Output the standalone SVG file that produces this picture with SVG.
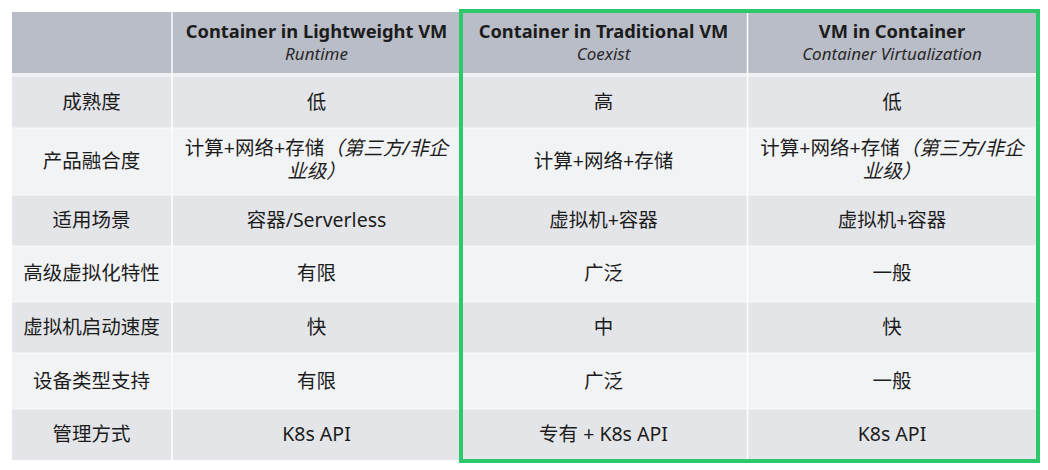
<svg xmlns="http://www.w3.org/2000/svg" width="1048" height="470" viewBox="0 0 1048 470">
<style>
text{font-family:"Noto Sans","Noto Sans CJK SC",sans-serif;fill:#1c1c1c;text-anchor:middle}
.h{font-size:18.3px;font-weight:bold}
.s{font-size:17px;font-style:italic;fill:#2a2a2a}
.t{font-size:19.5px}
.i{font-style:italic}
.hd{fill:#b9bdc7}
.dk{fill:#e4e5e9}
.lt{fill:#f2f3f5}
.sep{stroke:#ffffff;stroke-width:1.5}
.hl{fill:none;stroke:#2cc86a;stroke-width:4}
</style>
<rect width="1048" height="470" fill="#ffffff"/>
<g id="header">
<rect class="hd" x="12" y="12" width="1024" height="61"/>
<rect x="12" y="73" width="1024" height="4" fill="#eef0f3"/>
<text class="h" x="316.5" y="38">Container in Lightweight VM</text>
<text class="s" x="316.5" y="60">Runtime</text>
<text class="h" x="603.5" y="38">Container in Traditional VM</text>
<text class="s" x="603.5" y="60">Coexist</text>
<text class="h" x="892" y="38">VM in Container</text>
<text class="s" x="892" y="60">Container Virtualization</text>
</g>
<g id="row-maturity">
<rect class="dk" x="12" y="77" width="1024" height="51"/>
<text class="t" x="91.5" y="109">成熟度</text>
<text class="t" x="316.5" y="109">低</text>
<text class="t" x="603.5" y="109">高</text>
<text class="t" x="892" y="109">低</text>
</g>
<g id="row-integration">
<rect class="lt" x="12" y="128" width="1024" height="67"/>
<text class="t" x="91.5" y="168">产品融合度</text>
<text class="t" x="316.5" y="155">计算+网络+存储<tspan class="i">（第三方/非企</tspan></text>
<text class="t i" x="316.5" y="178">业级）</text>
<text class="t" x="603.5" y="168">计算+网络+存储</text>
<text class="t" x="892" y="155">计算+网络+存储<tspan class="i">（第三方/非企</tspan></text>
<text class="t i" x="892" y="178">业级）</text>
</g>
<g id="row-scenario">
<rect class="dk" x="12" y="195" width="1024" height="51"/>
<text class="t" x="91.5" y="227">适用场景</text>
<text class="t" x="316.5" y="227">容器/Serverless</text>
<text class="t" x="603.5" y="227">虚拟机+容器</text>
<text class="t" x="892" y="227">虚拟机+容器</text>
</g>
<g id="row-advanced">
<rect class="lt" x="12" y="246" width="1024" height="56"/>
<text class="t" x="91.5" y="280">高级虚拟化特性</text>
<text class="t" x="316.5" y="280">有限</text>
<text class="t" x="603.5" y="280">广泛</text>
<text class="t" x="892" y="280">一般</text>
</g>
<g id="row-boot">
<rect class="dk" x="12" y="302" width="1024" height="51"/>
<text class="t" x="91.5" y="334">虚拟机启动速度</text>
<text class="t" x="316.5" y="334">快</text>
<text class="t" x="603.5" y="334">中</text>
<text class="t" x="892" y="334">快</text>
</g>
<g id="row-devices">
<rect class="lt" x="12" y="353" width="1024" height="56"/>
<text class="t" x="91.5" y="387.5">设备类型支持</text>
<text class="t" x="316.5" y="387.5">有限</text>
<text class="t" x="603.5" y="387.5">广泛</text>
<text class="t" x="892" y="387.5">一般</text>
</g>
<g id="row-management">
<rect class="dk" x="12" y="409" width="1024" height="51"/>
<text class="t" x="91.5" y="441">管理方式</text>
<text class="t" x="316.5" y="441">K8s API</text>
<text class="t" x="603.5" y="441">专有 + K8s API</text>
<text class="t" x="892" y="441">K8s API</text>
</g>
<g id="grid-lines">
<line class="sep" x1="172" y1="12" x2="172" y2="460"/>
<line class="sep" x1="460" y1="12" x2="460" y2="460"/>
<line class="sep" x1="747.5" y1="12" x2="747.5" y2="460"/>
<line class="sep" x1="12" y1="128" x2="1036" y2="128" stroke-opacity="0.5"/>
<line class="sep" x1="12" y1="195" x2="1036" y2="195" stroke-opacity="0.5"/>
<line class="sep" x1="12" y1="246" x2="1036" y2="246" stroke-opacity="0.5"/>
<line class="sep" x1="12" y1="302" x2="1036" y2="302" stroke-opacity="0.5"/>
<line class="sep" x1="12" y1="353" x2="1036" y2="353" stroke-opacity="0.5"/>
<line class="sep" x1="12" y1="409" x2="1036" y2="409" stroke-opacity="0.5"/>
</g>
<g id="highlight">
<rect class="hl" x="461" y="11" width="577" height="450"/>
</g>
</svg>
